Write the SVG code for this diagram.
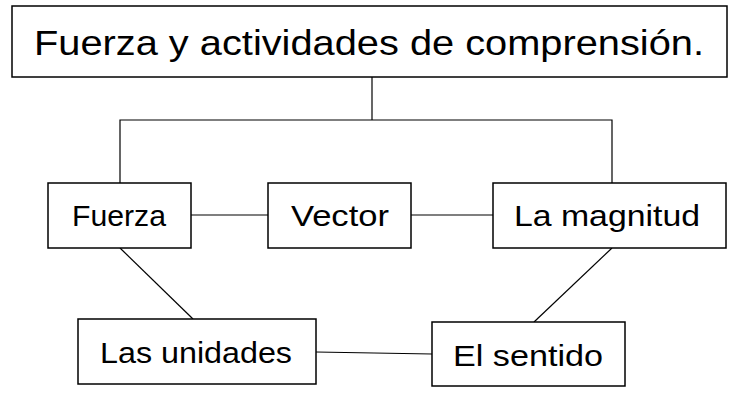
<svg xmlns="http://www.w3.org/2000/svg" width="733" height="393" viewBox="0 0 733 393">
<style>
.box{fill:#fff;stroke:#000;stroke-width:1.5}
.t{font-family:"Liberation Sans",Arial,sans-serif;fill:#000;text-anchor:middle}
.c{stroke:#000;stroke-width:1.2;fill:none}
</style>
<rect width="733" height="393" fill="#fff"/>
<g id="connectors">
<polyline class="c" points="372,77 372,120"/>
<polyline class="c" points="120,183 120,120 612,120 612,183"/>
<line class="c" x1="191" y1="215" x2="268" y2="215"/>
<line class="c" x1="411" y1="215" x2="493" y2="215"/>
<line class="c" x1="120" y1="248" x2="193" y2="319"/>
<line class="c" x1="612" y1="248" x2="534" y2="322"/>
<line class="c" x1="316" y1="352" x2="432" y2="354"/>
</g>
<g id="title"><rect class="box" x="12" y="6" width="715" height="71"/><text class="t" x="369" y="55" font-size="35" textLength="670" lengthAdjust="spacingAndGlyphs">Fuerza y actividades de comprensión.</text></g>
<g id="fuerza"><rect class="box" x="48" y="183" width="143" height="65"/><text class="t" x="119" y="226" font-size="29" textLength="94" lengthAdjust="spacingAndGlyphs">Fuerza</text></g>
<g id="vector"><rect class="box" x="268" y="183" width="143" height="65"/><text class="t" x="340" y="226" font-size="29" textLength="98" lengthAdjust="spacingAndGlyphs">Vector</text></g>
<g id="magnitud"><rect class="box" x="493" y="183" width="233" height="65"/><text class="t" x="607" y="226" font-size="29" textLength="186" lengthAdjust="spacingAndGlyphs">La magnitud</text></g>
<g id="unidades"><rect class="box" x="78" y="319" width="238" height="65"/><text class="t" x="196" y="363" font-size="29" textLength="192" lengthAdjust="spacingAndGlyphs">Las unidades</text></g>
<g id="sentido"><rect class="box" x="432" y="322" width="193" height="64"/><text class="t" x="528" y="366" font-size="29" textLength="150" lengthAdjust="spacingAndGlyphs">El sentido</text></g>
</svg>
